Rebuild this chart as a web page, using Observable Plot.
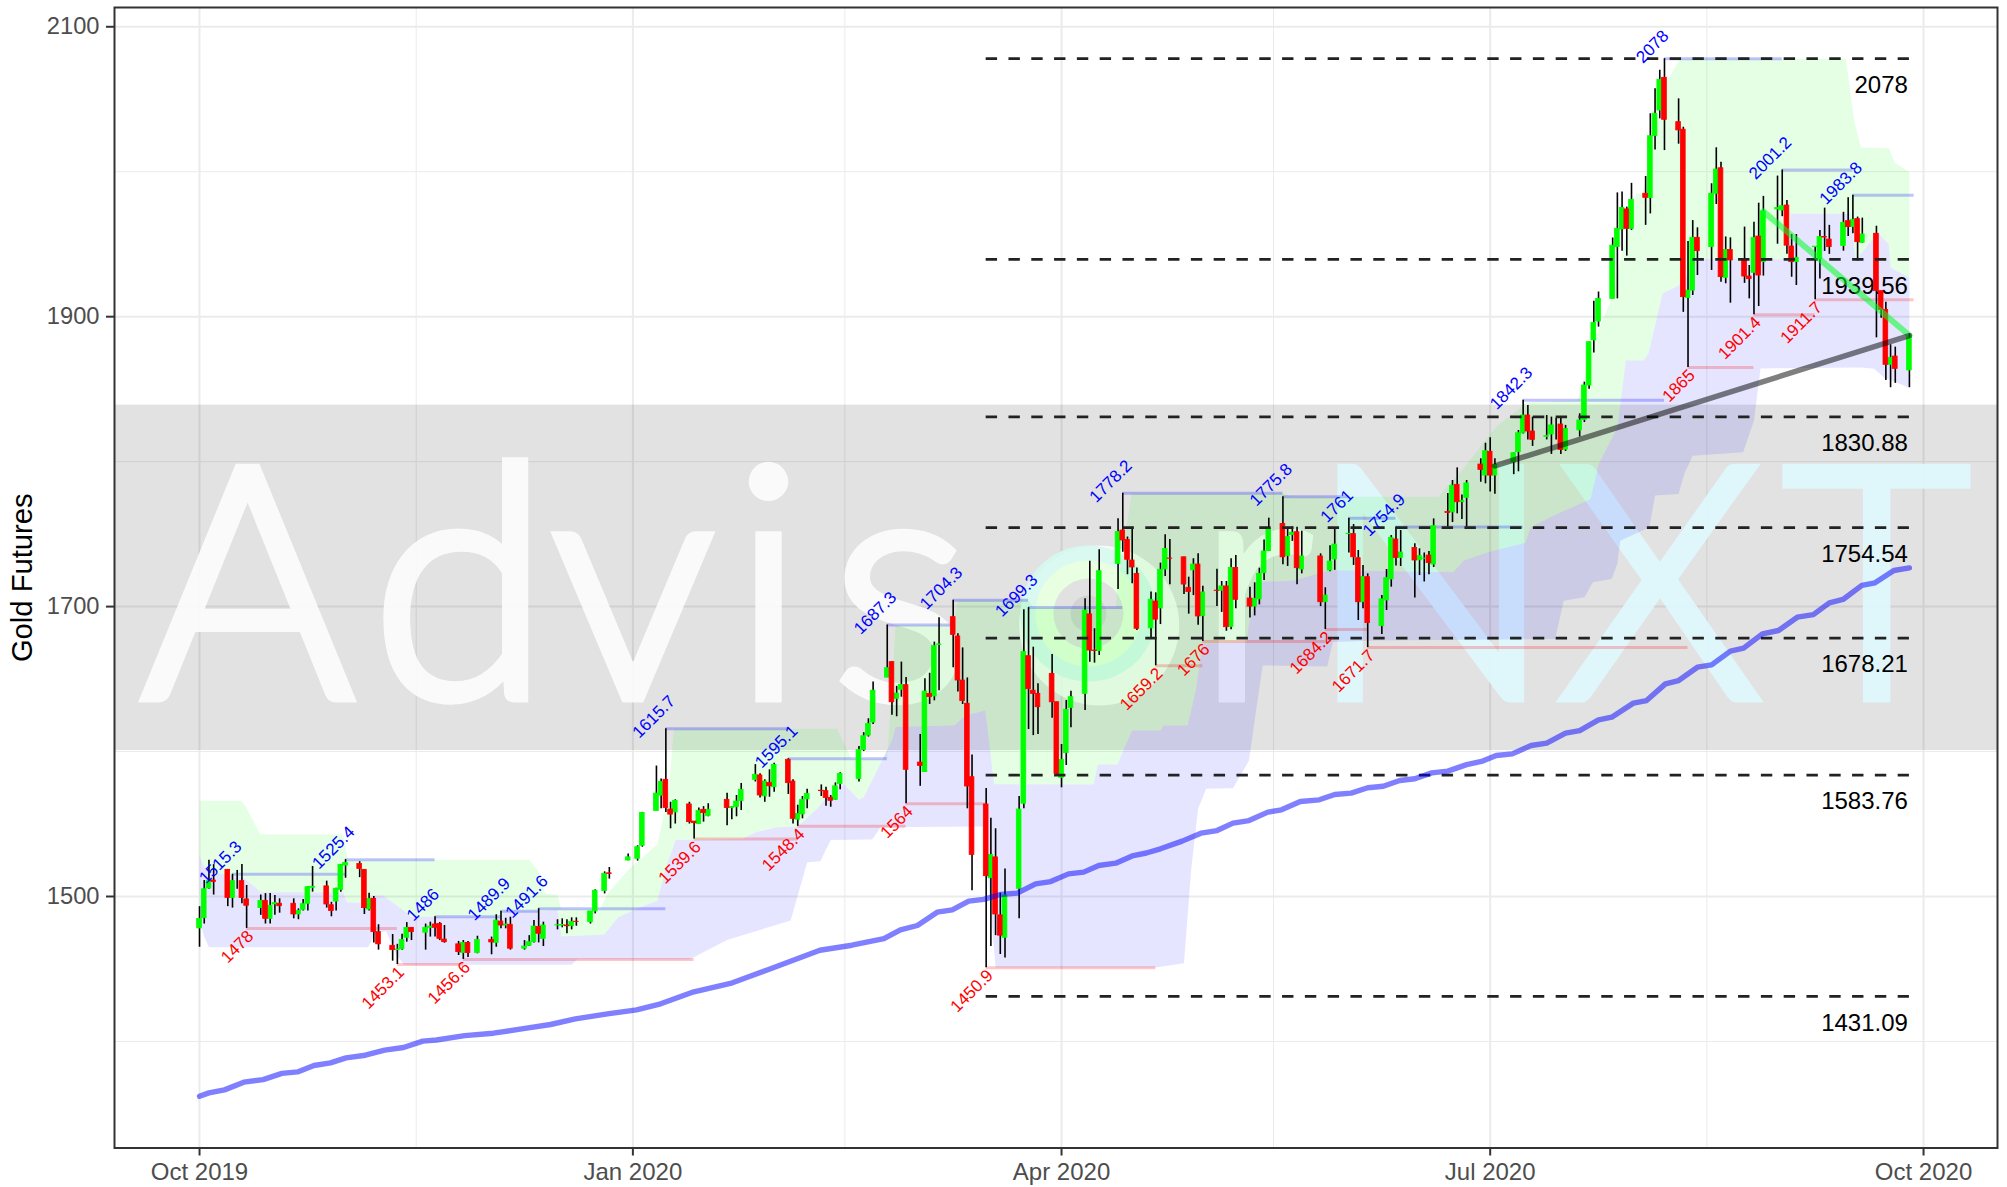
<!DOCTYPE html>
<html>
<head>
<meta charset="utf-8">
<script src="https://cdn.jsdelivr.net/npm/d3@7"></script>
<script src="https://cdn.jsdelivr.net/npm/@observablehq/plot@0.6"></script>
<style>html,body{margin:0;padding:0;background:#fff}svg{display:block}</style>
</head>
<body>
<div id="chart"></div>
<script>
// candle rows: [days after 1 Oct 2019, open, high, low, close]
const oct19 = [[0,1478,1493,1465,1484.6],[1,1485,1511,1481,1505],[2,1505.5,1525,1505,1510.6],[3,1511,1522,1501,1510],[6,1518.4,1518.4,1493,1499],[7,1499,1515.3,1492,1510.6],[8,1510,1518,1505,1510],[9,1510.6,1522,1495,1499],[10,1498,1507.6,1478,1493.6],[13,1492,1501,1487,1497],[14,1497,1502,1481,1484.6],[15,1484.6,1502,1481,1493.6],[16,1494.5,1500.7,1487,1495.4],[17,1495,1498.4,1488.5,1493.3],[20,1495,1498.4,1484.6,1487.6],[21,1487.6,1491.5,1484,1490],[22,1490.8,1498,1490,1494.7],[23,1495,1506.7,1490,1506.4],[24,1506,1520.7,1503,1506.7],[27,1507,1510.6,1492,1494.5],[28,1494,1496,1486,1490],[29,1496.5,1505.7,1490,1505.3],[30,1504.6,1522,1503,1521.8]];
const nov19 = [[31,1521.4,1525.4,1512.6,1523.2],[34,1522.5,1524,1513,1519],[35,1518.4,1518.4,1487.6,1492],[36,1491,1502.3,1490,1498.4],[37,1498.4,1500,1468,1475.4],[38,1475.4,1480.5,1463,1467],[41,1466,1473.8,1455.4,1463],[42,1463,1467,1453.1,1463.4],[43,1463.6,1474,1463,1470],[44,1471.5,1482,1468.5,1478.4],[45,1478.4,1478.4,1469.6,1475.4],[48,1475,1481,1463,1478.4],[49,1478.4,1482.3,1472,1479.3],[50,1480.7,1486,1472,1478.4],[51,1481,1482,1469.6,1470.8],[52,1470.3,1480,1467.8,1468.5],[55,1467,1469,1459.3,1461.6],[56,1461,1469.6,1456.6,1468],[57,1468,1469,1458,1461],[59,1461,1472.6,1460.5,1470]];
const dec19 = [[62,1470,1472,1459.8,1468.3],[63,1468,1487.4,1465,1483.4],[64,1482.7,1489.9,1477.7,1480],[65,1480,1485,1477.7,1480.7],[66,1480.5,1485.7,1463,1464],[69,1464,1469.6,1463,1465.5],[70,1466,1473,1465.5,1468.5],[71,1468.5,1483.4,1468,1479.3],[72,1479,1491.6,1468,1474.3],[73,1470.8,1482.3,1465.5,1480],[76,1480,1484,1477,1480.2],[77,1480,1484.6,1478.4,1480.3],[78,1480,1484,1474.3,1479.5],[79,1479.5,1485.3,1477,1482.5],[80,1482.6,1485.3,1479.5,1482.4],[83,1482.3,1489.7,1481,1489.7],[84,1489.7,1504.6,1488,1504],[86,1503.7,1517,1501.8,1515.6],[87,1516,1520,1512,1515.6],[91,1524.8,1529.4,1524.6,1527]];
const jan20 = [[93,1526,1535,1524.4,1534],[94,1535,1558,1534,1557.7],[97,1559,1590,1559,1571],[98,1569.6,1581,1560.5,1579],[99,1580.5,1615.7,1558,1561],[100,1560,1565,1546.7,1556.5],[101,1558,1566.7,1550,1566],[104,1563.5,1565,1550,1551.3],[105,1551.7,1551.7,1539.6,1550.6],[106,1550,1561,1550,1559],[107,1559.8,1562,1551.3,1557.5],[108,1555.6,1564,1555,1559.8],[112,1566.7,1571.3,1548.8,1561],[113,1561,1562,1553,1561.6],[114,1561.6,1569.7,1555,1565.5],[115,1565.8,1578,1559.3,1573.6],[118,1580.5,1591,1579,1584],[119,1583.5,1584.6,1568,1569.7],[120,1569,1580.5,1565,1579.3],[121,1578.4,1587.4,1568.5,1576],[122,1575.4,1592,1572,1590.8]];
const feb20 = [[125,1594.3,1595.1,1570.4,1578.2],[126,1579.3,1580.5,1550,1553.6],[127,1553,1563,1548.4,1557],[128,1556.6,1569,1553.6,1566.7],[129,1567,1574,1560.5,1570.8],[132,1573,1577,1569,1572.7],[133,1572.7,1575.4,1562.3,1568],[134,1568,1569.7,1561.6,1566],[135,1566.7,1578.4,1566.2,1576],[136,1577.5,1585.3,1573.6,1584.6],[140,1581,1603.5,1579,1601],[141,1601,1613,1600,1610.6],[142,1611,1622.6,1610,1619],[143,1620,1648,1618.6,1642],[146,1651,1687.3,1651,1657.5],[147,1661.7,1661.7,1625,1634],[148,1636.4,1645,1624,1640],[149,1642.6,1661.7,1637.5,1646],[150,1645.8,1651,1564,1587.4]];
const mar20 = [[153,1592.4,1611.8,1576,1590.1],[154,1585.8,1650.2,1585.8,1641.4],[155,1639.8,1654,1632.5,1637.5],[156,1638,1675.5,1635,1672.7],[157,1673.6,1692.3,1642,1673.9],[160,1692.7,1704.3,1657.8,1680.5],[161,1679.4,1681.2,1641,1649],[162,1649,1671.5,1632.5,1634.8],[163,1633,1650.8,1560.5,1575.9],[164,1582.3,1597.7,1504,1528.7],[167,1563.5,1574.5,1450.9,1514],[168,1512.6,1554,1465.5,1528.7],[169,1527,1546.7,1473,1487.6],[170,1487,1502.3,1460,1473],[171,1471.5,1519,1457.5,1500.7],[174,1505.3,1569,1484.6,1560],[175,1564,1697.8,1560.5,1668.6],[176,1665.8,1699.3,1615.2,1643],[177,1642,1672,1611,1639.8],[178,1639.8,1646.7,1611.8,1630.6],[181,1653.6,1667,1623,1634],[182,1634,1634,1583,1584.6]];
const apr20 = [[183,1581.9,1604.9,1575,1594.3],[184,1598.9,1635.2,1590.4,1628.8],[185,1630,1641.6,1616.4,1637.5],[188,1639.8,1705.4,1628.3,1697.3],[189,1694.6,1731.3,1661.6,1669.7],[190,1669.7,1684.7,1661,1669.3],[191,1669.3,1739.2,1666.3,1724.4],[195,1729.5,1760.6,1711.8,1751.4],[196,1752.5,1778.2,1737.5,1745.6],[197,1746,1748,1722,1732.3],[198,1731.8,1754.8,1715.7,1727],[199,1722.6,1726.7,1683.5,1684.7],[202,1685,1710,1677.8,1704.7],[203,1703.5,1709.5,1659.2,1691],[204,1698.7,1730,1687.6,1725.4],[205,1725.6,1749.5,1720.8,1739.8],[206,1733.2,1746.3,1715,1733],[209,1734,1734,1708.3,1715.2],[210,1713,1720.3,1694.8,1710],[211,1725,1733,1707.6,1729],[212,1729,1736.4,1687.2,1693.2]];
const may20 = [[213,1693.4,1714,1676,1709.7],[216,1711,1725.8,1700,1710.8],[217,1711,1717.3,1696,1713.9],[218,1713.9,1717.3,1683,1685.8],[219,1686,1733,1684,1726.7],[220,1726.7,1735.3,1698.5,1704.7],[223,1705.6,1713.4,1692.2,1700],[224,1700,1716.4,1693.6,1705.4],[225,1705,1726.5,1701.2,1722.6],[226,1723,1746,1718,1738],[227,1738.2,1761,1738,1753.7],[230,1757,1775.8,1728.8,1734],[231,1734.8,1754.8,1727.7,1748],[232,1749.3,1755,1745,1751],[233,1751.3,1754.8,1715,1726.5],[234,1725.6,1752,1722.6,1734.6],[238,1734.6,1736.4,1700,1703],[239,1703,1713,1684.2,1707.6],[240,1724.9,1742,1724,1731.1],[241,1732.5,1754,1725,1742.8]];
const jun20 = [[244,1750,1761,1737,1750.2],[245,1750,1756.6,1728.4,1734],[246,1733.4,1738.7,1690.4,1703],[247,1703,1728.4,1698.5,1720.3],[248,1720.3,1722.6,1671.7,1688.6],[251,1686.5,1707.6,1680.7,1705],[252,1704.2,1725.6,1697.3,1719.6],[253,1718.7,1749,1713.4,1747.4],[254,1746.3,1754.9,1728,1733.6],[255,1733.6,1752.5,1727.7,1737.3],[258,1740.5,1743.3,1706,1731.8],[259,1732,1739.9,1721.4,1734.8],[260,1733,1737,1717,1733.2],[261,1735.2,1738,1722,1730],[262,1729,1760.5,1727,1755.5],[265,1765.2,1778,1755,1764.6],[266,1765,1787,1758,1783.3],[267,1784,1795.7,1764,1772],[268,1772,1777,1760,1773],[269,1775,1787,1754.9,1785],[272,1798,1802,1785.8,1794.3],[273,1790.4,1812.7,1784.7,1807.2]];
const jul20 = [[274,1806.8,1816.4,1779,1790.4],[275,1790.4,1802,1777.5,1797.8],[279,1799.5,1806,1791,1805.8],[280,1806.5,1821.5,1793,1819.6],[281,1819.6,1842.3,1819,1831.8],[282,1831.8,1838.7,1815,1820.8],[283,1820.8,1830.7,1810.5,1815],[286,1817,1831.8,1815,1817.6],[287,1818.7,1830.7,1805,1825],[288,1825,1830,1815,1825],[289,1825.6,1830,1805,1808],[290,1808.3,1825,1807,1822.6],[293,1821.5,1833,1817,1828.4],[294,1828.8,1854.8,1827,1852.5],[295,1852.5,1882.6,1850,1882.4],[296,1883.6,1910.7,1875,1895.8],[297,1896.6,1917,1892.8,1912.3],[300,1912.3,1954.3,1912.3,1949],[301,1948,1985.4,1912.3,1960.6],[302,1960.2,1986,1945.2,1975],[303,1974,1975.6,1941.8,1960.6],[304,1960.6,1992,1959.5,1980.6]];
const aug20 = [[307,1984.8,1996.7,1963,1982],[308,1981.8,2040,1970.9,2024.5],[309,2024.5,2057.2,2015,2040],[310,2042.2,2070,2036.5,2063.4],[311,2064.8,2078,2014.6,2035.8],[314,2034.2,2050.3,2019,2028.5],[315,2029,2030.7,1903,1913.5],[316,1912.8,1951.9,1865,1918],[317,1918,1966.3,1914.6,1954.4],[318,1954.4,1961.3,1928.4,1945.2],[321,1948,1991.7,1931.9,1984.8],[322,1984.8,2016.5,1977.4,2001.5],[323,2002.4,2006.6,1923.8,1927.3],[324,1926.8,1955,1922.7,1946],[325,1946,1954.4,1909.3,1938.8],[328,1938.8,1961.8,1923,1927.7],[329,1927.7,1935.3,1912.3,1925.9],[330,1930.3,1965.2,1901.4,1954.4],[331,1955.3,1978.3,1907,1928.4],[332,1937.6,1983,1928,1972.6],[335,1974,1997,1950,1975]];
const sep20 = [[336,1973.3,2001.2,1969,1976.2],[337,1976.7,1980.2,1943,1949],[338,1948.4,1956.7,1927.2,1937.6],[339,1937.6,1956.7,1921.5,1940.6],[343,1948,1948,1911.7,1948.3],[344,1939.5,1959.5,1926,1955],[345,1955,1974.9,1945,1954.6],[346,1953.2,1963,1943,1948],[349,1948.7,1972,1945.2,1964.8],[350,1965.9,1982,1955.3,1961.8],[351,1961.8,1983.8,1957.2,1966.8],[352,1967.3,1968.7,1938.3,1951.4],[353,1951,1968,1950.7,1956.7],[356,1957.2,1962.4,1885.4,1917.6],[357,1917.6,1917.6,1899,1904.7],[358,1904.7,1910,1856,1866.8],[359,1866.8,1880.6,1851,1871.6],[360,1872.5,1879,1854,1864],[363,1862.9,1888,1851,1885.4]];

// pivots
const highDays = [7,31,50,64,72,99,125,146,160,176,196,230,244,254,281,311,336,351];
const highValues = [1515.3,1525.4,1486,1489.9,1491.6,1615.7,1595.1,1687.3,1704.3,1699.3,1778.2,1775.8,1761,1754.9,1842.3,2078,2001.2,1983.8];
const lowDays = [10,42,56,105,127,150,167,203,213,239,248,316,330,343];
const lowValues = [1478,1453.1,1456.6,1539.6,1548.4,1564,1450.9,1659.2,1676,1684.2,1671.7,1865,1901.4,1911.7];
const pivotEnd = 364;

// retracement levels
const fibLevels = [2078,1939.56,1830.88,1754.54,1678.21,1583.76,1431.09];
const fibStartDay = 167, fibEndDay = 363;

// envelope outlines: [day, value]
const upperBand = [[0,1566],[8.9,1566],[10,1561],[12.9,1543],[30.5,1543],[31.5,1525.4],[70,1525.4],[71.9,1518],[73.4,1502],[76,1501],[76.8,1491.6],[85.1,1491.6],[86.6,1502],[91.2,1519],[97.2,1536],[99.6,1573],[100.7,1615.7],[135.3,1615.7],[138.4,1595],[146,1595],[147.8,1687.3],[160,1687.3],[161,1704.3],[176,1704.3],[177,1699.3],[194.5,1699.3],[195.6,1732],[197.9,1778.2],[230,1778.2],[232,1775.8],[263,1775.8],[268.4,1795.7],[275.2,1823.7],[281.9,1841],[292.5,1842.3],[296.8,1890],[299.6,1911],[305,1985],[306.3,1985],[311.6,2062.8],[314,2076.6],[314.2,2078],[349.5,2078],[351.3,2035],[352.7,2016.8],[358.7,2016.3],[359.8,2006.5],[362.6,2000.7],[363,2000]];
const midBand = [[0,1528],[1,1520],[4,1516],[9.3,1513],[13.1,1503],[30.5,1503],[31.3,1496],[35.5,1495.4],[36.6,1500.7],[38.9,1500.7],[41.9,1493.8],[45,1486],[64,1486],[64.6,1490],[72.2,1490],[76,1491],[76.8,1472.4],[85.9,1473.8],[88.9,1485.7],[93.6,1492.6],[97.2,1497],[99,1520],[101.1,1539],[115.3,1539.8],[118.1,1544.4],[122.7,1547.8],[127,1548.3],[131.1,1560.5],[134.3,1573],[136.8,1577.7],[140,1566.7],[141,1568.5],[147,1607.6],[147.8,1617],[160.3,1618],[162.6,1624.8],[166.8,1628.3],[168.7,1577.5],[189.8,1577.3],[190.7,1591],[194.9,1591],[196,1600],[198,1614.5],[204,1614.5],[204.7,1618],[209.8,1618],[211.5,1642],[212.9,1674.5],[222.3,1675.5],[222.8,1688],[225.3,1716.9],[232.3,1718],[240,1725],[266.2,1723.7],[268.4,1731.8],[274.1,1738],[281.5,1744],[282.6,1754.7],[288.3,1764],[295.3,1774],[297,1798],[301,1823.6],[302.8,1869.7],[306.6,1869.7],[307.6,1874.6],[310.6,1916],[315,1923],[317,1940],[337.2,1939.6],[337.8,1971],[350.5,1971],[351.6,1939],[356.3,1958],[358.6,1950],[359,1934],[363,1927]];
const lowerBand = [[0,1483.4],[1,1472],[2,1465],[35.8,1465],[37.2,1474.3],[39.6,1476],[41.9,1459.3],[43.4,1453],[79,1453],[80.2,1456.6],[104,1456.6],[112,1470],[125.5,1483.4],[126.9,1499.5],[129,1523.7],[131.8,1524.4],[134,1539],[142.8,1539.3],[144.6,1547.8],[166.5,1548.3],[169,1451],[203,1451],[209,1454],[210.5,1517.7],[212,1560.5],[213.7,1574.3],[219.4,1574.7],[222.8,1593.8],[224,1621.4],[225.7,1659.4],[239.4,1658.7],[240.6,1675.5],[249.7,1676.6],[287.8,1677.7],[289.6,1704],[294,1706.5],[295.8,1716.8],[299.8,1719],[301,1729.5],[301.6,1745.5],[307.8,1754.8],[309,1776.6],[314,1777.7],[315.2,1791.5],[317,1804],[327.7,1806.5],[330,1828.4],[331.4,1864.3],[352.7,1865],[355.5,1864],[357.6,1858],[363,1851]];

// long moving average
const movingAverage = [[0,1362.2],[2,1364.5],[5.3,1366.6],[9.4,1371.9],[13.5,1373.7],[17.5,1378],[20.8,1379],[24.3,1383.4],[27.8,1385.2],[31.1,1388.7],[35.2,1390.5],[39.3,1394],[43.3,1395.8],[47.4,1400.2],[50.3,1401],[56.3,1404],[62.4,1405.7],[68.4,1408.7],[74.5,1411.7],[79.8,1415.6],[86.6,1419],[92.8,1421.8],[97.9,1426],[104.5,1433.8],[112.7,1440],[120.8,1449.6],[131.7,1462.9],[138.5,1466.4],[145.3,1470.9],[148.8,1477],[152.4,1480],[156.6,1489.2],[159.8,1490.8],[163.3,1496.8],[166.5,1498],[170,1501.4],[173.6,1502.3],[177.5,1508.7],[180.7,1510.3],[184.5,1515.6],[187.7,1516.8],[190.9,1521.4],[194.5,1523],[198,1528],[201,1530],[204,1532.9],[208.6,1538.2],[212.6,1543.7],[216,1545.5],[219.4,1550.6],[222.8,1552.4],[226.8,1558.2],[229.7,1559.8],[233.7,1565.5],[237.7,1566.7],[241,1570.4],[244.5,1571.3],[248,1575],[251.3,1576.1],[254.8,1580],[258,1581.2],[261.6,1585.3],[265,1586.5],[269,1591],[272.4,1593.4],[275.3,1597.3],[278.7,1598.4],[282.7,1604.2],[286,1605.8],[290,1612.7],[293,1614.5],[297,1621.9],[299.8,1623.7],[304.4,1633.4],[307.2,1635.2],[311.2,1646.7],[314,1649],[318,1658.2],[321,1659.8],[325,1669.3],[327.8,1671.3],[331.8,1681.2],[335.2,1683.5],[339.2,1692.7],[342.6,1694.5],[346,1702.6],[348.9,1704.9],[352.9,1714.6],[355.7,1716.4],[359.7,1724.9],[363,1726.7]];

// trend lines
const supportLine = [[275,1797],[363,1887]];
const declineLine = [[332,1972.6],[363,1887]];

// grey band and watermark
const bandRange = [1600.7,1839];
const markLetters = ["A","d","v","i","s","r"];
const markLetterDays = [10.2,55.4,92,120.8,148.8,224];
const brandLetters = ["N","X","T"];
const brandLetterDays = [261.4,310,356];
const markLevel = 1708.7;
// logo rings: [day, level, radius, colour, opacity]
const logoRings = [[191,1687,80,"#ffffff",0.82],[188.7,1695.2,68,"#d6f8f0",0.9],[188.7,1695.2,53,"#e9ffdf",0.95],[188.7,1695.2,35,"#dfdfdf",0.95],[188.7,1695.2,18,"#d0d0d0",0.9]];

// axes
const yMajor = [1500,1700,1900,2100];
const yMinor = [1400,1600,1800,2000];
const xMajorLabels = ["2019-10-01","2020-01-01","2020-04-01","2020-07-01","2020-10-01"];
const xMinorLabels = ["2019-11-16","2020-02-15","2020-05-16","2020-08-16"];
const xLimits = [-18.05,381.7];
const yLimits = [1326.5,2113.3];

const origin = Date.UTC(2019,9,1);
const day = d => new Date(origin + d*864e5);
const candles = [...oct19,...nov19,...dec19,...jan20,...feb20,...mar20,...apr20,...may20,...jun20,...jul20,...aug20,...sep20]
  .map(([d,o,h,l,c]) => ({d,o,h,l,c}));
const highs = highDays.map((d,i)=>({d,v:highValues[i],end:highDays[i+1] ?? pivotEnd}));
const lows = lowDays.map((d,i)=>({d,v:lowValues[i],end:lowDays[i+1] ?? pivotEnd}));
const pts = a => a.map(([d,v])=>({x:day(d),y:v}));
const font = "Liberation Sans, Arimo, Arial, Helvetica, sans-serif";
const halfBody = 0.5;

const bodies = (rows,color) => Plot.rect(rows,{
  x1:r=>day(r.d-halfBody),x2:r=>day(r.d+halfBody),y1:"o",y2:"c",
  fill:color,stroke:color,strokeWidth:0.8
});
const watermark = (letters,days,color,opacity) => Plot.text(letters,{
  x:(_,i)=>day(days[i]),y:()=>markLevel,text:d=>d,
  fontFamily:"Lato",fontWeight:300,fontSize:322,
  fill:color,stroke:color,strokeWidth:11,strokeLinejoin:"miter",opacity
});

const chart = Plot.plot({
  width:2007,height:1187,
  marginLeft:114,marginRight:10,marginTop:7,marginBottom:39.5,
  style:{fontFamily:font,background:"#fff",overflow:"visible"},
  x:{type:"utc",domain:xLimits.map(day)},
  y:{domain:yLimits},
  marks:[
    // grid
    Plot.ruleY(yMinor,{stroke:"#ebebeb",strokeWidth:1}),
    Plot.ruleX(xMinorLabels.map(s=>new Date(s)),{stroke:"#ebebeb",strokeWidth:1}),
    Plot.ruleY(yMajor,{stroke:"#ebebeb",strokeWidth:2}),
    Plot.ruleX(xMajorLabels.map(s=>new Date(s)),{stroke:"#ebebeb",strokeWidth:2}),
    // band + watermark
    Plot.rect([bandRange],{x1:()=>day(xLimits[0]),x2:()=>day(xLimits[1]),y1:r=>r[0],y2:r=>r[1],fill:"#000",fillOpacity:0.112}),
    watermark(markLetters,markLetterDays,"#fff",0.85),
    ...logoRings.map(([d,v,r,c,o])=>Plot.dot([0],{x:()=>day(d),y:()=>v,r,fill:c,fillOpacity:o,stroke:"none"})),
    watermark(brandLetters,brandLetterDays,"#dff8fd",0.95),
    // envelopes
    Plot.line(pts([...upperBand,...[...midBand].reverse()]),{x:"x",y:"y",fill:"#00ff00",fillOpacity:0.1,stroke:"none"}),
    Plot.line(pts([...midBand,...[...lowerBand].reverse()]),{x:"x",y:"y",fill:"#0000ff",fillOpacity:0.1,stroke:"none"}),
    // pivot segments
    Plot.ruleY(highs,{x1:r=>day(r.d),x2:r=>day(r.end),y:"v",stroke:"#0000ff",strokeOpacity:0.24,strokeWidth:3}),
    Plot.ruleY(lows,{x1:r=>day(r.d),x2:r=>day(r.end),y:"v",stroke:"#ff0000",strokeOpacity:0.22,strokeWidth:3}),
    // retracement labels
    Plot.text(fibLevels,{x:()=>day(fibEndDay),y:d=>d,text:d=>String(d),textAnchor:"end",dx:-1.5,dy:26.5,fontSize:24,fill:"#000"}),
    // candles
    Plot.ruleX(candles,{x:r=>day(r.d),y1:"l",y2:"h",stroke:"#000",strokeWidth:1.6}),
    bodies(candles.filter(r=>r.c>=r.o),"#00ff00"),
    bodies(candles.filter(r=>r.c<r.o),"#ff0000"),
    // dashes
    Plot.ruleY(fibLevels,{x1:()=>day(fibStartDay),x2:()=>day(fibEndDay),stroke:"#222",strokeWidth:2.8,strokeDasharray:"11.4,11.4"}),
    // moving average and trend lines
    Plot.line(pts(movingAverage),{x:"x",y:"y",stroke:"#0000ff",strokeOpacity:0.5,strokeWidth:5.4}),
    Plot.line(pts(declineLine),{x:"x",y:"y",stroke:"#00ff22",strokeOpacity:0.55,strokeWidth:6}),
    Plot.line(pts(supportLine),{x:"x",y:"y",stroke:"#000",strokeOpacity:0.5,strokeWidth:5.5}),
    // pivot labels
    Plot.text(highs,{x:r=>day(r.d),y:"v",text:r=>String(r.v),rotate:-45,dx:-12,dy:-12,fontSize:17,fill:"#0000ff"}),
    Plot.text(lows,{x:r=>day(r.d),y:"v",text:r=>String(r.v),rotate:-45,textAnchor:"end",dx:4,dy:5,fontSize:17,fill:"#ff0000"}),
    // axes
    Plot.axisY(yMajor,{label:null,tickSize:8,tickPadding:7,fontSize:23.7,fill:"#4d4d4d",stroke:"#333",strokeWidth:2,tickFormat:d3.format("d")}),
    Plot.axisX(xMajorLabels.map(s=>new Date(s)),{label:null,tickSize:8,tickPadding:7,fontSize:24,fill:"#4d4d4d",stroke:"#333",strokeWidth:2,tickFormat:d3.utcFormat("%b %Y")}),
    Plot.text(["Gold Futures"],{frameAnchor:"left",rotate:-90,textAnchor:"middle",dx:-92,fontSize:29.2,fill:"#000"}),
    Plot.frame({stroke:"#333",strokeWidth:2})
  ]
});
document.getElementById("chart").appendChild(chart);
</script>
</body>
</html>
